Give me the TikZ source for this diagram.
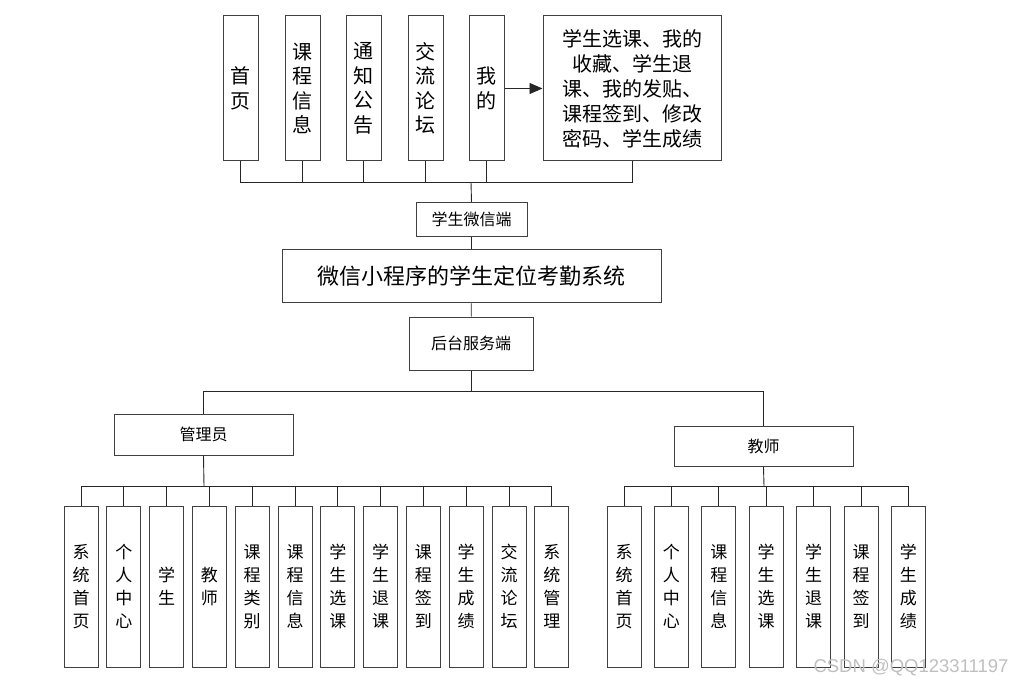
\documentclass[tikz,border=0pt]{standalone}
\usepackage{fontspec}
\setmainfont{Noto Sans CJK SC}
\newfontfamily\wmfont{Liberation Sans}
\usepackage{tikz}
\usetikzlibrary{calc}
\usetikzlibrary{arrows.meta}

\begin{document}
\begin{tikzpicture}[x=1pt,y=-1pt,
  box/.style={draw=black!75,line width=1pt,fill=white,inner sep=0pt,align=center},
  tall/.style={box,minimum width=35pt,minimum height=145pt,font=\fontsize{20}{24.5}\selectfont},
  leaf/.style={box,minimum width=34pt,minimum height=161pt,font=\fontsize{17}{23}\selectfont},
  wire/.style={draw=black!85,line width=0.9pt}]
\useasboundingbox (0,0) rectangle (1018,687);
\node (m1) at (240.5,88.5) [tall] {首\\页};
\node (m2) at (302.5,88.5) [tall] {课\\程\\信\\息};
\node (m3) at (363.5,88.5) [tall] {通\\知\\公\\告};
\node (m4) at (425.5,88.5) [tall] {交\\流\\论\\坛};
\node (m5) at (486.5,88.5) [tall] {我\\的};
\node (mx) at (632,88.5) [box,minimum width=178pt,minimum height=145pt,font=\fontsize{20}{25}\selectfont] {学生选课、我的\\收藏、学生退\\课、我的发贴、\\课程签到、修改\\密码、学生成绩};
\coordinate (j1) at (471,182);
\foreach \n in {m1,m2,m3,m4,m5,mx} \draw [wire] (\n.south) |- (j1);
\draw [wire,-{Triangle[length=13pt,width=11pt]}] (m5.east) -- (mx.west);
\node (W) at (471.5,219.5) [box,minimum width=111pt,minimum height=34pt,font=\fontsize{16}{16}\selectfont] {学生微信端};
\node (T) at (471.5,276.5) [box,minimum width=379pt,minimum height=53pt,font=\fontsize{22}{22}\selectfont] {微信小程序的学生定位考勤系统};
\node (S) at (471,343.5) [box,minimum width=124pt,minimum height=53pt,font=\fontsize{16}{16}\selectfont] {后台服务端};
\draw [wire] (j1) -- (W.north);
\draw [wire] (W) -- (T);
\draw [wire] (T) -- (S);
\coordinate (j2) at (471,391);
\node (A) at (203.5,434.5) [box,minimum width=179pt,minimum height=41pt,font=\fontsize{16}{16}\selectfont] {管理员};
\node (B) at (763.5,446.5) [box,minimum width=179pt,minimum height=40pt,font=\fontsize{16}{16}\selectfont] {教师};
\draw [wire] (S.south) -- (j2) -| (A.north);
\draw [wire] (j2) -| (B.north);
\coordinate (j3) at (204,486);
\coordinate (j4) at (764,486);
\draw [wire] (A.south) -- (j3);
\draw [wire] (B.south) -- (j4);
\foreach \t [count=\i from 0] in {{系\\统\\首\\页},{个\\人\\中\\心},{学\\生},{教\\师},{课\\程\\类\\别},{课\\程\\信\\息},{学\\生\\选\\课},{学\\生\\退\\课},{课\\程\\签\\到},{学\\生\\成\\绩},{交\\流\\论\\坛},{系\\统\\管\\理}}
{
  \node (a\i) at (81+42.8*\i,586.5) [leaf] {\t};
  \draw [wire] (j3) -| (a\i.north);
}
\foreach \t [count=\i from 0] in {{系\\统\\首\\页},{个\\人\\中\\心},{课\\程\\信\\息},{学\\生\\选\\课},{学\\生\\退\\课},{课\\程\\签\\到},{学\\生\\成\\绩}}
{
  \node (b\i) at (624+47.4*\i,586.5) [leaf] {\t};
  \draw [wire] (j4) -| (b\i.north);
}
\node (wm) at (911,668) [font=\fontsize{18.5}{18.5}\wmfont, text=black!25] {CSDN @QQ123311197};
\end{tikzpicture}
\end{document}
